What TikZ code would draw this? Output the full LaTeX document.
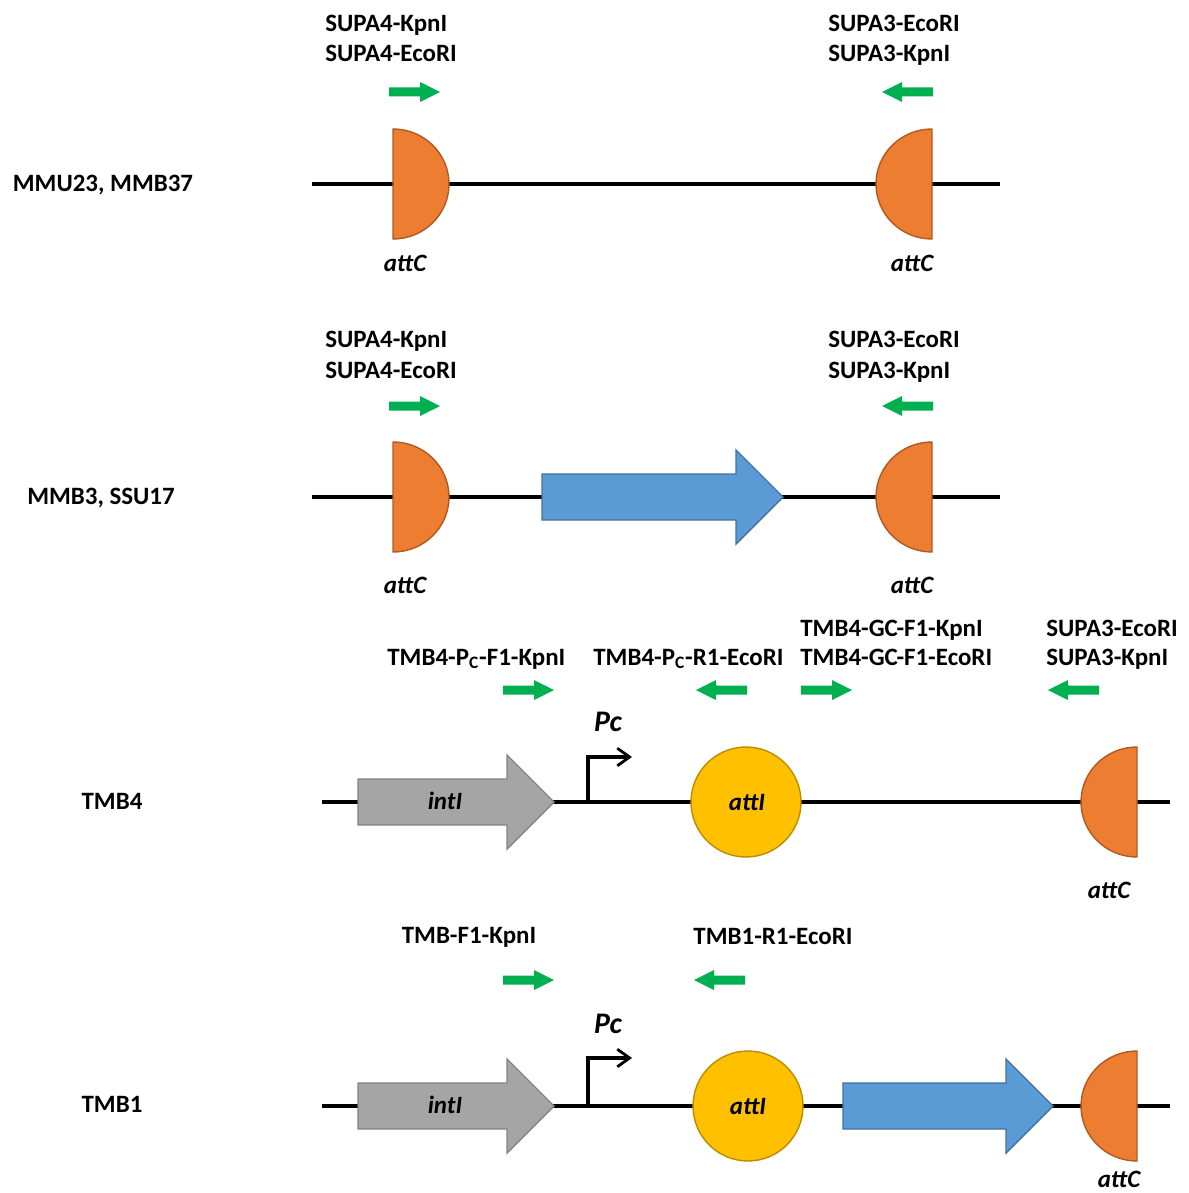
\documentclass[tikz,border=0pt]{standalone}
\usepackage{fontspec}
\setmainfont{Carlito}
\usetikzlibrary{arrows.meta}

\definecolor{attcfill}{HTML}{ED7D31}
\definecolor{attcline}{HTML}{AE5A21}
\definecolor{cassfill}{HTML}{5B9BD5}
\definecolor{cassline}{HTML}{41719C}
\definecolor{intfill}{HTML}{A5A5A5}
\definecolor{intline}{HTML}{838383}
\definecolor{attifill}{HTML}{FFC000}
\definecolor{attiline}{HTML}{BC8C00}
\definecolor{primergreen}{HTML}{00B050}

\tikzset{
  lbl/.style={inner sep=0pt, font=\bfseries\fontsize{14.2}{16}\selectfont},
  elbl/.style={lbl, font=\bfseries\itshape\fontsize{14.2}{16}\selectfont},
  pclbl/.style={lbl, font=\bfseries\itshape\fontsize{17}{19}\selectfont},
  backbone/.style={line width=2pt, black},
  attc/.style={fill=attcfill, draw=attcline, line width=0.8pt},
  atti/.style={circle, inner sep=0pt, minimum size=2.2cm, fill=attifill, draw=attiline, line width=0.8pt},
  cassette/.style={fill=cassfill, draw=cassline, line width=0.8pt},
  intgene/.style={fill=intfill, draw=intline, line width=0.8pt},
  promoter/.style={line width=1.8pt, -{Straight Barb[length=7pt,width=10pt,line width=1.6pt]}},
  primerarrow/.style={fill=primergreen}
}

% primer arrows: left end x, height y
\newcommand{\fwdprimer}[2]{\fill[primerarrow] (#1,#2-4.5) -- (#1+31,#2-4.5) -- (#1+31,#2-10) -- (#1+51,#2) -- (#1+31,#2+10) -- (#1+31,#2+4.5) -- (#1,#2+4.5) -- cycle;}
\newcommand{\revprimer}[2]{\fill[primerarrow] (#1+51,#2-4.5) -- (#1+20,#2-4.5) -- (#1+20,#2-10) -- (#1,#2) -- (#1+20,#2+10) -- (#1+20,#2+4.5) -- (#1+51,#2+4.5) -- cycle;}
% attC half discs: flat side x, centre y
\newcommand{\attcright}[2]{\draw[attc] (#1,#2-55) .. controls (#1+30.9,#2-55) and (#1+56,#2-30.4) .. (#1+56,#2) .. controls (#1+56,#2+30.4) and (#1+30.9,#2+55) .. (#1,#2+55) -- cycle;}
\newcommand{\attcleft}[2]{\draw[attc] (#1,#2-55) .. controls (#1-30.9,#2-55) and (#1-56,#2-30.4) .. (#1-56,#2) .. controls (#1-56,#2+30.4) and (#1-30.9,#2+55) .. (#1,#2+55) -- cycle;}
% gene arrows: style, tail x, head start x, tip x, centre y
\newcommand{\genearrow}[5]{\draw[#1] (#2,#5-23) -- (#3,#5-23) -- (#3,#5-47) -- (#4,#5) -- (#3,#5+47) -- (#3,#5+23) -- (#2,#5+23) -- cycle;}

\begin{document}
\begin{tikzpicture}[x=0.02cm, y=-0.02cm]
  \useasboundingbox (0,0) rectangle (1189,1193);

  % Row 1: MMU23, MMB37
  \node[lbl, anchor=base] (name1) at (103,191) {MMU23, MMB37};
  \coordinate (b1s) at (312,184);
  \coordinate (b1e) at (1000,184);
  \draw[backbone] (b1s) -- (b1e);
  \attcright{393}{184}
  \attcleft{932}{184}
  \node[elbl, anchor=base] (attc1a) at (405,271) {attC};
  \node[elbl, anchor=base] (attc1b) at (912,271) {attC};
  \node[lbl, anchor=base west] (p1a) at (325,32) {SUPA4-KpnI};
  \node[lbl, anchor=base west] (p1b) at (325,62) {SUPA4-EcoRI};
  \node[lbl, anchor=base west] (p1c) at (828,32) {SUPA3-EcoRI};
  \node[lbl, anchor=base west] (p1d) at (828,62) {SUPA3-KpnI};
  \fwdprimer{389}{92}
  \revprimer{882}{92}

  % Row 2: MMB3, SSU17
  \node[lbl, anchor=base] (name2) at (101,504) {MMB3, SSU17};
  \coordinate (b2s) at (312,497);
  \coordinate (b2e) at (1000,497);
  \draw[backbone] (b2s) -- (b2e);
  \attcright{393}{497}
  \attcleft{932}{497}
  \genearrow{cassette}{542}{736}{783}{497}
  \node[elbl, anchor=base] (attc2a) at (405,593) {attC};
  \node[elbl, anchor=base] (attc2b) at (912,593) {attC};
  \node[lbl, anchor=base west] (p2a) at (325,347) {SUPA4-KpnI};
  \node[lbl, anchor=base west] (p2b) at (325,378) {SUPA4-EcoRI};
  \node[lbl, anchor=base west] (p2c) at (828,347) {SUPA3-EcoRI};
  \node[lbl, anchor=base west] (p2d) at (828,378) {SUPA3-KpnI};
  \fwdprimer{389}{406}
  \revprimer{882}{406}

  % Row 3: TMB4
  \node[lbl, anchor=base] (name3) at (112,809) {TMB4};
  \coordinate (b3s) at (322,802);
  \coordinate (b3e) at (1170,802);
  \draw[backbone] (b3s) -- (b3e);
  \genearrow{intgene}{358}{507}{554}{802}
  \node[elbl, anchor=base] (int3) at (445,809) {intI};
  \draw[promoter] (588,803) -- (588,757) -- (632,757);
  \node[pclbl, anchor=base] (pc3) at (608,731) {Pc};
  \node[atti] (atti3) at (746,802) {};
  \node[elbl, anchor=base] (attitxt3) at (747,810) {attI};
  \attcleft{1137}{802}
  \node[elbl, anchor=base] (attc3) at (1109,898) {attC};
  \node[lbl, anchor=base west] (p3a) at (387,665) {TMB4-P\textsubscript{C}-F1-KpnI};
  \node[lbl, anchor=base west] (p3b) at (593,665) {TMB4-P\textsubscript{C}-R1-EcoRI};
  \node[lbl, anchor=base west] (p3c) at (800,636) {TMB4-GC-F1-KpnI};
  \node[lbl, anchor=base west] (p3d) at (800,665) {TMB4-GC-F1-EcoRI};
  \node[lbl, anchor=base west] (p3e) at (1046,636) {SUPA3-EcoRI};
  \node[lbl, anchor=base west] (p3f) at (1046,665) {SUPA3-KpnI};
  \fwdprimer{503}{690}
  \revprimer{696}{690}
  \fwdprimer{801}{690}
  \revprimer{1048}{690}

  % Row 4: TMB1
  \node[lbl, anchor=base] (name4) at (112,1112) {TMB1};
  \coordinate (b4s) at (322,1106);
  \coordinate (b4e) at (1170,1106);
  \draw[backbone] (b4s) -- (b4e);
  \genearrow{intgene}{358}{507}{554}{1106}
  \node[elbl, anchor=base] (int4) at (445,1113) {intI};
  \draw[promoter] (588,1107) -- (588,1058) -- (632,1058);
  \node[pclbl, anchor=base] (pc4) at (608,1033) {Pc};
  \node[atti] (atti4) at (748,1106) {};
  \node[elbl, anchor=base] (attitxt4) at (748,1114) {attI};
  \genearrow{cassette}{843}{1006}{1053}{1106}
  \attcleft{1137}{1106}
  \node[elbl, anchor=base] (attc4) at (1119,1187) {attC};
  \node[lbl, anchor=base] (p4a) at (469,943) {TMB-F1-KpnI};
  \node[lbl, anchor=base] (p4b) at (773,944) {TMB1-R1-EcoRI};
  \fwdprimer{503}{980}
  \revprimer{694}{980}
\end{tikzpicture}
\end{document}
